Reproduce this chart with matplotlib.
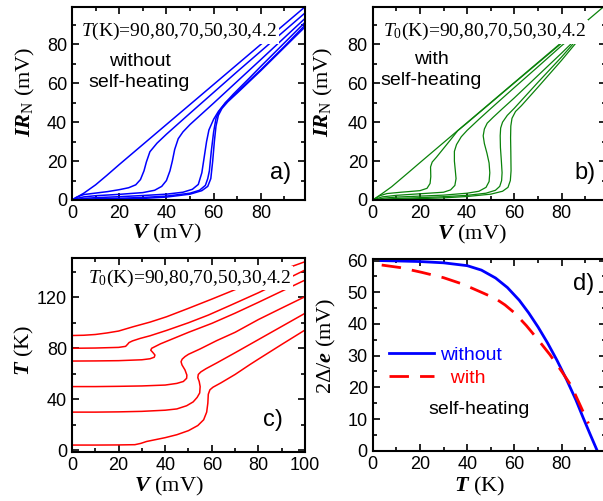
import matplotlib
matplotlib.use("Agg")
import matplotlib.pyplot as plt
from matplotlib.lines import Line2D
from matplotlib.ticker import MultipleLocator

plt.rcParams['font.family'] = ['Liberation Sans', 'DejaVu Sans']
plt.rcParams['mathtext.fontset'] = 'custom'
plt.rcParams['mathtext.rm'] = 'Liberation Serif'
plt.rcParams['mathtext.it'] = 'Liberation Serif:italic'
plt.rcParams['mathtext.bf'] = 'Liberation Serif:bold:italic'

# -------------------- DATA --------------------
temps_label = "90,80,70,50,30,4.2"

# a) I*R_N vs V without self-heating, one (V, IR) list per bath temperature
a_90 = [(0, 0), (5, 3.5), (10, 7.8), (14.7, 12.6), (20, 18.2), (30, 28.5), (40, 38.8),
        (50, 49.1), (60, 59.4), (70, 69.7), (80, 80.0), (90, 90.3), (100, 100.6)]
a_80 = [(0, 0), (2, 1.5), (5, 2.8), (9, 3.4), (15, 4.3), (20, 5.3), (24, 6.3), (27, 7.8),
        (29, 10.5), (30.5, 15), (31.5, 19.5), (33, 24.8), (36, 29.2), (40, 33.8), (50, 44.6),
        (60, 55.3), (70, 66), (80, 76.5), (90, 87), (100, 97.5)]
a_70 = [(0, 0), (2, 0.8), (5, 1.6), (10, 2.2), (20, 2.9), (30, 3.8), (35, 5), (38, 7),
        (40, 10), (41.5, 15), (42.5, 20), (43.5, 26), (45, 31.5), (47, 35), (50, 38.8),
        (55, 44.3), (60, 49.8), (70, 61), (80, 72.2), (90, 83.5), (100, 94.8)]
a_50 = [(0, 0), (5, 0.8), (10, 1.2), (20, 1.7), (30, 2.3), (40, 3), (47, 4), (51, 5.5),
        (53.5, 8), (55, 14), (56, 22), (57, 30), (58, 36), (60, 41.5), (62, 45.5), (65, 50),
        (68.4, 54.5), (75, 62.5), (80, 68.7), (90, 80.8), (100, 92.9)]
a_30 = [(0, 0), (10, 0.6), (20, 0.9), (30, 1.3), (40, 2), (50, 3.5), (54, 5), (56.5, 7.5),
        (57.5, 11), (58.2, 15), (59, 25), (60, 35), (61, 42), (62.5, 46), (65, 50),
        (70, 55.5), (80, 67), (90, 79), (100, 91.5)]
a_4 = [(0, 0), (10, 0.3), (20, 0.5), (30, 0.8), (40, 1.5), (50, 3), (55, 4.8), (57.5, 7),
       (58.8, 11), (59.6, 20), (60.3, 30), (61, 38), (62, 43.5), (63.5, 47), (66, 50.5),
       (70, 55), (80, 66.5), (90, 78.5), (100, 90.5)]

# b) I*R_N vs V with self-heating (back-bending branches)
b_90 = [(0, 0), (4, 3.3), (8, 6.8), (15, 14), (20, 19.2), (40, 39.8), (60, 60.4),
        (80, 81), (100, 101.6)]
b_80 = [(0, 0), (3, 2.2), (6, 3.3), (12, 4), (20, 4.8), (23, 6), (24.3, 8.5), (24.6, 12),
        (24.5, 17), (25.2, 19.5), (27, 22), (30, 26.5), (33, 31), (36, 35.6), (40, 39.6),
        (60, 60.2), (80, 80.6), (82.4, 82.6)]
b_70 = [(0, 0), (4, 1.6), (10, 2.4), (20, 3.2), (30, 4), (33, 5.2), (34.8, 7.5), (35.3, 11),
        (35, 15), (34.6, 20), (34.6, 25), (35.5, 28.5), (37.5, 32.5), (40, 35.8), (45, 41.5),
        (50, 47), (60, 57.8), (70, 68.5), (80, 79.3), (83, 82.3)]
b_50 = [(0, 0), (5, 1), (10, 1.5), (20, 2), (30, 2.5), (40, 3.5), (45, 4.5), (48, 6.5),
        (49.3, 9.5), (49.6, 14), (49.3, 19), (48.4, 24), (47.3, 29), (46.8, 33), (47.3, 36.5),
        (48.5, 39.5), (51, 42.5), (55, 47), (60, 52.5), (70, 64), (80, 75.5), (85.5, 82)]
b_30 = [(0, 0), (10, 0.8), (20, 1.2), (30, 1.7), (40, 2.4), (48, 3.5), (52, 5), (53.8, 7),
        (54.6, 10), (54.8, 14), (54.5, 20), (54.1, 27), (54, 33), (54.2, 37), (55, 40),
        (57, 43.5), (60, 47.2), (70, 60.5), (80, 73.5), (86, 81.8)]
b_4 = [(0, 0), (10, 0.4), (20, 0.7), (30, 1.1), (40, 1.8), (50, 3), (55, 4.5), (57.3, 6.5),
       (58.3, 10), (58.6, 15), (58.5, 25), (58.4, 32), (58.5, 38), (59, 42), (60.5, 45.5),
       (63, 48.5), (70, 58), (80, 71.8), (86.7, 81.6)]

# c) junction temperature T vs V
c_90 = [(0, 90), (5, 90.2), (10, 90.8), (15, 92), (20, 93.5), (26.3, 96.9), (33.5, 100.5),
        (40.6, 104.7), (50, 111.3), (60, 118.5), (67.8, 124.3), (80, 133.5), (92.1, 142.6),
        (100, 147.8)]
c_80 = [(0, 80), (10, 80.2), (20, 80.7), (23, 81.5), (23.8, 83), (24.5, 84.5), (26, 85.8),
        (29.2, 87.7), (33.5, 89.8), (40.6, 94), (50, 100), (58.5, 106), (67.8, 113.5),
        (80, 123.5), (90, 132.3), (100, 141.3)]
c_70 = [(0, 70), (10, 70.1), (20, 70.3), (30, 71), (33.5, 71.8), (35.3, 73), (35.6, 74.7),
        (34.8, 76.5), (33.8, 78.5), (34.2, 80), (35.5, 81.2), (38, 83.5), (42, 86.5),
        (50, 92.5), (55, 96), (60, 99.5), (70, 107.5), (80, 116), (90, 124.7), (100, 133.4)]
c_50 = [(0, 50), (10, 50), (20, 50.2), (30, 50.5), (40, 51.2), (45, 52.5), (47.8, 54),
        (49.2, 56.5), (49.3, 59), (48.5, 63), (47.2, 67), (46.8, 69.5), (47.3, 71.5),
        (48.5, 73.5), (50, 75.3), (55, 79.5), (62.1, 86), (70, 92.5), (80, 102.5),
        (90, 111.5), (100, 120.4)]
c_30 = [(0, 30), (10, 30), (20, 30.2), (30, 30.6), (40, 31.5), (45, 32.5), (49.2, 35),
        (52, 38), (53.7, 41.5), (54.8, 45), (55, 50), (54.6, 54), (54, 57), (54.2, 59.5),
        (55.3, 61.5), (57.5, 64), (62.1, 68.5), (70, 76.5), (80, 86.8), (90, 97.1), (100, 107.4)]
c_4 = [(0, 4.2), (10, 4.2), (20, 4.3), (27, 4.5), (29.5, 5.5), (32, 7), (40, 10), (45, 12.3),
       (50, 15.5), (54, 19.5), (56.5, 24), (57.8, 30), (58.3, 37), (58.5, 44), (59.2, 47.5),
       (60.5, 49.5), (64, 53), (70, 59.5), (76.4, 67.3), (80, 71.5), (90, 83), (100, 94.3)]

# d) gap 2*Delta/e vs T
d_T_without = [3.5, 10, 20, 30, 40, 46, 52, 57, 62, 66, 70, 74, 78, 82, 86, 89, 92, 95]
d_gap_without = [60, 59.9, 59.7, 59.3, 58.4, 57, 54.5, 51.5, 47.5, 43.5, 39, 34, 28.5, 22.5,
                 16, 10.5, 5.2, 0]
d_T_with = [3.8, 11.6, 20.7, 30, 38, 46, 52, 56, 60, 65, 70, 75, 80, 84, 88, 91.3]
d_gap_with = [58.6, 57.8, 56.3, 54.6, 52.6, 50, 48, 46, 43.5, 39.5, 35, 30.3, 25, 20.5,
              14, 8.6]

curves_a = [a_90, a_80, a_70, a_50, a_30, a_4]
curves_b = [b_90, b_80, b_70, b_50, b_30, b_4]
curves_c = [c_90, c_80, c_70, c_50, c_30, c_4]

BLUE = '#0000ff'
GREEN = '#0a820a'
RED = '#ff0000'
SERIF = 'Liberation Serif'


def style_axes(ax, xmaj, xmin, ymaj, ymin):
    ax.xaxis.set_major_locator(MultipleLocator(xmaj))
    ax.xaxis.set_minor_locator(MultipleLocator(xmin))
    ax.yaxis.set_major_locator(MultipleLocator(ymaj))
    ax.yaxis.set_minor_locator(MultipleLocator(ymin))
    ax.tick_params(which='both', direction='in', top=True, right=True, labelsize=13, width=1.2)
    ax.tick_params(which='major', length=5)
    ax.tick_params(which='minor', length=3)
    for sp in ax.spines.values():
        sp.set_linewidth(1.5)


def set_labels(ax, xlabel, ylabel, xpos, ypos):
    ax.set_xlabel(xlabel, fontsize=16, family=SERIF)
    ax.set_ylabel(ylabel, fontsize=16, family=SERIF)
    ax.xaxis.set_label_coords(*xpos)
    ax.yaxis.set_label_coords(*ypos)
    ax.xaxis.label.set_verticalalignment('center')
    ax.yaxis.label.set_verticalalignment('center')


def draw(ax, curves, color, lw):
    for c in curves:
        ax.plot([p[0] for p in c], [p[1] for p in c], color=color, lw=lw)


def note(ax, text, x, y):
    ax.text(x, y, text, transform=ax.transAxes, fontsize=14, family=SERIF, va='center',
            ha='left', zorder=5, bbox=dict(facecolor='white', edgecolor='none', pad=1))


fig = plt.figure(figsize=(6.03, 5.01), dpi=100)
ax_a = fig.add_axes([0.1194, 0.6008, 0.3864, 0.3852])
ax_b = fig.add_axes([0.6181, 0.6008, 0.3864, 0.3852])
ax_c = fig.add_axes([0.1194, 0.0984, 0.3864, 0.3866])
ax_d = fig.add_axes([0.6181, 0.1004, 0.3864, 0.3826])

# -------------------- a) --------------------
draw(ax_a, curves_a, BLUE, 1.1)
ax_a.set_xlim(0, 98.7)
ax_a.set_ylim(0, 99.2)
style_axes(ax_a, 20, 10, 20, 10)
set_labels(ax_a, r'$\mathbf{V}$ (mV)', r'$\mathbf{IR}_{\mathrm{N}}$ (mV)', (0.405, -0.172), (-0.2, 0.56))
note(ax_a, r'$T$(K)=' + temps_label, 0.04, 0.872)
ax_a.text(0.29, 0.665, 'without\nself-heating', transform=ax_a.transAxes, fontsize=14,
          ha='center', va='center', linespacing=1.3)
ax_a.text(0.893, 0.138, 'a)', transform=ax_a.transAxes, fontsize=17, ha='center', va='center')

# -------------------- b) --------------------
draw(ax_b, curves_b, GREEN, 0.9)
ax_b.set_xlim(0, 98.7)
ax_b.set_ylim(0, 99.2)
style_axes(ax_b, 20, 10, 20, 10)
set_labels(ax_b, r'$\mathbf{V}$ (mV)', r'$\mathbf{IR}_{\mathrm{N}}$ (mV)', (0.425, -0.177), (-0.21, 0.56))
note(ax_b, r'$T_0$(K)=' + temps_label, 0.044, 0.872)
ax_b.text(0.25, 0.674, 'with\nself-heating', transform=ax_b.transAxes, fontsize=14,
          ha='center', va='center', linespacing=1.3)
ax_b.text(0.913, 0.138, 'b)', transform=ax_b.transAxes, fontsize=17, ha='center', va='center')

# -------------------- c) --------------------
draw(ax_c, curves_c, RED, 1.1)
ax_c.set_xlim(0, 100)
ax_c.set_ylim(-1, 150.7)
style_axes(ax_c, 20, 10, 40, 20)
set_labels(ax_c, r'$\mathbf{V}$ (mV)', r'$\mathbf{T}$ (K)', (0.417, -0.182), (-0.205, 0.525))
note(ax_c, r'$T_0$(K)=' + temps_label, 0.068, 0.895)
ax_c.text(0.864, 0.164, 'c)', transform=ax_c.transAxes, fontsize=17, ha='center', va='center')

# -------------------- d) --------------------
ax_d.plot(d_T_without, d_gap_without, color=BLUE, lw=2)
ax_d.plot(d_T_with, d_gap_with, color=RED, lw=2, dashes=(7, 4))
ax_d.set_xlim(0, 98.6)
ax_d.set_ylim(0, 60.5)
style_axes(ax_d, 20, 10, 10, 5)
set_labels(ax_d, r'$\mathbf{T}$ (K)', r'2$\Delta$/$\mathbf{e}$ (mV)', (0.459, -0.186), (-0.197, 0.547))
handles = [Line2D([], [], color=BLUE, lw=2), Line2D([], [], color=RED, lw=2, dashes=(7, 4))]
ax_d.legend(handles, ['without', '  with'], loc='upper left', bbox_to_anchor=(0.07, 0.545),
            frameon=False, fontsize=14, handlelength=2.3, handletextpad=0.3,
            labelspacing=0.3, borderpad=0, borderaxespad=0, labelcolor=[BLUE, RED])
ax_d.text(0.455, 0.214, 'self-heating', transform=ax_d.transAxes, fontsize=14,
          ha='center', va='center')
ax_d.text(0.907, 0.872, 'd)', transform=ax_d.transAxes, fontsize=17, ha='center', va='center')

fig.savefig('out.png', dpi=100)
